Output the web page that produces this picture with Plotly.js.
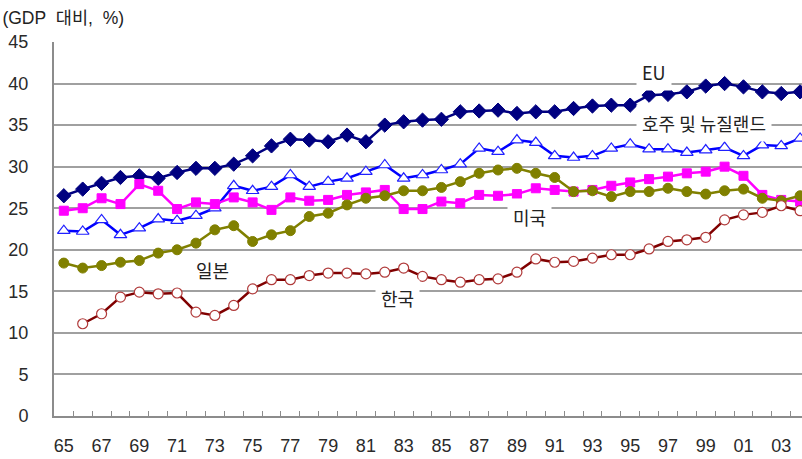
<!DOCTYPE html>
<html>
<head>
<meta charset="utf-8">
<script src="https://cdn.plot.ly/plotly-3.0.1.min.js"></script>
<style>html,body{margin:0;padding:0;background:#fff;}#chart{width:802px;height:459px;}</style>
</head>
<body>
<div id="chart"></div>
<script>
const years = [];
for (let y = 1965; y <= 2004; y++) years.push(y);
const tickYears = [1965,1967,1969,1971,1973,1975,1977,1979,1981,1983,1985,1987,1989,1991,1993,1995,1997,1999,2001,2003];
const tickLabels = ['65','67','69','71','73','75','77','79','81','83','85','87','89','91','93','95','97','99','01','03'];

const seriesNames = ['EU','호주 및 뉴질랜드','미국','일본','한국'];
const eu  = [26.5,27.3,28.0,28.7,28.9,28.6,29.3,29.8,29.8,30.3, 31.3,32.5,33.3,33.2,33.0,33.8,33.0,35.0,35.4,35.6, 35.7,36.6,36.7,36.8,36.4,36.6,36.6,37.0,37.3,37.4, 37.4,38.6,38.7,39.0,39.7,40.0,39.6,39.0,38.8,39.0];
const aus = [22.3,22.2,23.6,21.8,22.6,23.7,23.5,24.1,25.0,27.7, 27.1,27.6,29.0,27.6,28.2,28.6,29.4,30.2,28.6,29.0, 29.6,30.3,32.2,31.8,33.2,32.9,31.3,31.1,31.3,32.2, 32.7,32.1,32.1,31.7,32.0,32.3,31.3,32.6,32.5,33.4];
const usa = [24.7,25.0,26.2,25.5,27.9,27.1,24.9,25.7,25.5,26.3, 25.7,24.8,26.3,25.9,26.0,26.6,26.9,27.2,24.9,24.9, 25.8,25.6,26.6,26.5,26.7,27.4,27.2,27.0,27.2,27.7, 28.1,28.5,28.8,29.2,29.4,30.0,28.9,26.6,26.0,25.8];
const jpn = [18.4,17.8,18.1,18.5,18.7,19.6,20.0,20.8,22.4,22.9, 21.0,21.8,22.3,24.0,24.4,25.4,26.2,26.5,27.1,27.1, 27.5,28.2,29.2,29.6,29.8,29.2,28.7,27.0,27.1,26.4, 27.0,27.0,27.4,27.0,26.7,27.1,27.3,26.2,25.9,26.5];
const kor = [null,11.1,12.3,14.3,14.9,14.7,14.8,12.5,12.1,13.3, 15.3,16.4,16.4,16.9,17.2,17.2,17.1,17.3,17.8,16.8, 16.4,16.1,16.4,16.5,17.3,18.9,18.5,18.6,19.0,19.4, 19.4,20.1,21.0,21.2,21.5,23.6,24.2,24.5,25.3,24.7];

const FONT = '"Liberation Sans", "Noto Sans CJK KR", sans-serif';
const KFONT = '"Noto Sans CJK KR", "Liberation Sans", sans-serif';

const traces = [
  {x: years, y: eu, name: seriesNames[0], mode: 'lines+markers',
   line: {color: '#000080', width: 2.5},
   marker: {symbol: 'diamond', size: 11, color: '#000080', line: {color: '#000080', width: 1}}},
  {x: years, y: aus, name: seriesNames[1], mode: 'lines+markers',
   line: {color: '#0000ff', width: 2.5},
   marker: {symbol: 'triangle-up', size: 11, color: '#ffffff', line: {color: '#2020ff', width: 1.2}}},
  {x: years, y: usa, name: seriesNames[2], mode: 'lines+markers',
   line: {color: '#ff00ff', width: 2.5},
   marker: {symbol: 'square', size: 9, color: '#ff00ff', line: {color: '#ff00ff', width: 1}}},
  {x: years, y: jpn, name: seriesNames[3], mode: 'lines+markers',
   line: {color: '#808000', width: 2.5},
   marker: {symbol: 'circle', size: 10, color: '#808000', line: {color: '#808000', width: 1}}},
  {x: years, y: kor, name: seriesNames[4], mode: 'lines+markers',
   line: {color: '#800000', width: 2.5},
   marker: {symbol: 'circle', size: 10, color: '#ffffff', line: {color: '#b03a3a', width: 1.2}}}
];

function label(text, x, y, anchor) {
  return {text: text, x: x, y: y, xref: 'x', yref: 'y', xanchor: anchor, yanchor: 'middle',
          showarrow: false, bgcolor: '#ffffff', borderpad: 5,
          font: {family: KFONT, size: 18, color: '#222222'}};
}

const layout = {
  width: 802, height: 459,
  margin: {l: 54, r: 0, t: 42, b: 43, pad: 0},
  paper_bgcolor: '#ffffff', plot_bgcolor: '#ffffff',
  showlegend: false,
  title: {text: '(GDP\u00a0\u00a0대비,\u00a0\u00a0%)', x: 0.003, xref: 'container', xanchor: 'left',
          y: 0.961, yref: 'container', yanchor: 'middle',
          font: {family: FONT, size: 17.5, color: '#222222'}},
  xaxis: {range: [1964.48, 2004.1], tickmode: 'array', tickvals: tickYears, ticktext: tickLabels,
          ticks: '', showgrid: false, zeroline: false,
          showline: true, linecolor: '#8c8c8c', linewidth: 2,
          ticklabelstandoff: 12,
          minor: {tickmode: 'array', tickvals: years.slice(0, -1).map(v => v + 0.5),
                  ticks: 'inside', ticklen: 5, tickcolor: '#8c8c8c', tickwidth: 1, showgrid: false},
          tickfont: {family: FONT, size: 18, color: '#2a2a2a'}},
  yaxis: {range: [0, 45], tickmode: 'linear', tick0: 0, dtick: 5, ticks: '',
          showgrid: true, gridcolor: '#a0a0a0', gridwidth: 2, zeroline: false,
          showline: true, linecolor: '#8c8c8c', linewidth: 2,
          ticklabelstandoff: 20,
          tickfont: {family: FONT, size: 18, color: '#2a2a2a'}},
  annotations: [
    label(seriesNames[0], 1995.3, 41.4, 'left'),
    label(seriesNames[1], 1995.3, 35.3, 'left'),
    label(seriesNames[2], 1989.67, 23.9, 'center'),
    label(seriesNames[3], 1972.9, 17.6, 'center'),
    label(seriesNames[4], 1982.7, 14.2, 'center')
  ]
};

Plotly.newPlot('chart', traces, layout, {displayModeBar: false, staticPlot: true});
</script>
</body>
</html>
